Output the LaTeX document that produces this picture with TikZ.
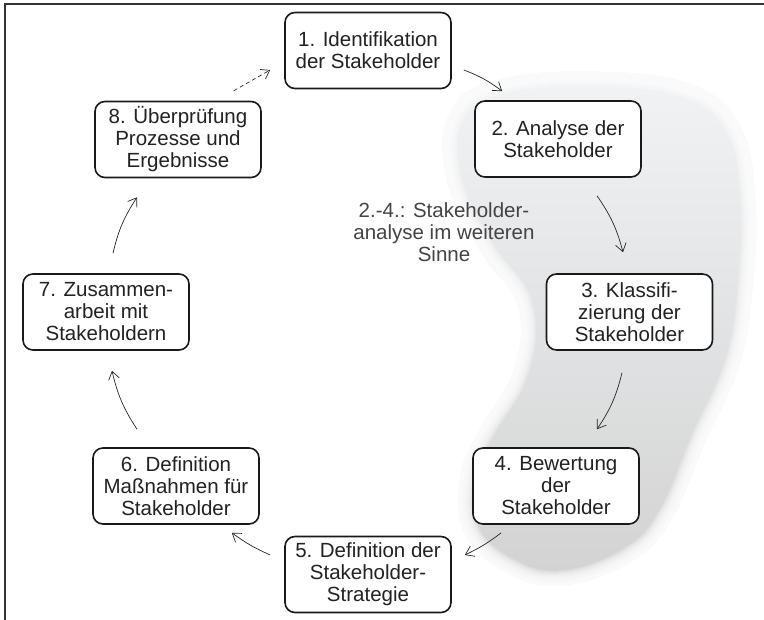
\documentclass[tikz,border=0pt]{standalone}
\usepackage{fontspec}
\setmainfont{Liberation Sans}
\usetikzlibrary{arrows.meta}
\definecolor{txt}{HTML}{222222}
\definecolor{notetxt}{HTML}{444444}
\definecolor{blobtop}{HTML}{F1F3F5}
\definecolor{blobbot}{HTML}{D2D2D2}
\begin{document}
\begin{tikzpicture}[x=1pt,y=-1pt,
  stage/.style={draw=black!90, line width=1.6pt, rounded corners=10pt,
    minimum width=166pt, minimum height=76pt, align=center, inner sep=0pt,
    font=\fontsize{20.5}{22}\selectfont, text=txt, fill=white},
  flow/.style={-{Straight Barb[length=8pt,width=11pt]}, line width=0.7pt, draw=black!85},
  dflow/.style={flow, dash pattern=on 4pt off 3pt},
  notestyle/.style={align=center, font=\fontsize{20.5}{22}\selectfont, text=notetxt},
  frame/.style={line width=2pt, draw=black!80}
]
\useasboundingbox (0,0) rectangle (764,620);
% soft grey blob
\def\blobpath{plot[smooth cycle, tension=0.7] coordinates {(498,80) (450,113) (447,180) (481,252) (518,306) (514,370) (481,428) (461,475) (465,533) (508,573) (565,585) (633,560) (672,518) (705,442) (740,362) (753,280) (755,198) (740,126) (692,85) (600,72)}}
\fill[top color=blobtop, bottom color=blobbot] \blobpath;
\foreach \w in {2,4,...,30} {
  \draw[white, line width=\w pt, opacity=0.18] \blobpath;
}
% frame
\coordinate (fbl) at (4.5,620);
\coordinate (ftl) at (4.5,4);
\coordinate (ftr) at (764,4);
\draw[frame] (fbl) -- (ftl) -- (ftr);
% nodes
\node[stage] (n1) at (368,50.5) {1. Identifikation\\der Stakeholder};
\node[stage] (n2) at (558,139) {2. Analyse der\\Stakeholder};
\node[stage] (n3) at (629.5,312) {3. Klassifi-\\zierung der\\Stakeholder};
\node[stage] (n4) at (556,486) {4. Bewertung\\der\\Stakeholder};
\node[stage] (n5) at (368,574.5) {5. Definition der\\Stakeholder-\\Strategie};
\node[stage] (n6) at (176,486) {6. Definition\\Maßnahmen für\\Stakeholder};
\node[stage] (n7) at (106,312) {7. Zusammen-\\arbeit mit\\Stakeholdern};
\node[stage] (n8) at (178,139.5) {8. Überprüfung\\Prozesse und\\Ergebnisse};
\node[notestyle] (note) at (444,232) {2.-4.: Stakeholder-\\analyse im weiteren\\Sinne};
% connectors
\draw[flow] ([shift={(12,19.5)}]n1.east) to[bend left=8] ([shift={(28,-9)}]n2.north west);
\draw[flow] ([shift={(39,18)}]n2.south) to[bend left=10] ([shift={(-6.5,-21)}]n3.north);
\draw[flow] ([shift={(-7.5,22)}]n3.south) to[bend left=10] ([shift={(41,-18)}]n4.north);
\draw[flow] ([shift={(29,8)}]n4.south west) to[bend left=6] ([shift={(13,-19.5)}]n5.east);
\draw[flow] ([shift={(-14,-19.5)}]n5.west) to[bend left=6] ([shift={(-28,8)}]n6.south east);
\draw[flow] ([shift={(-39,-18)}]n6.north) to[bend left=10] ([shift={(6,20)}]n7.south);
\draw[flow] ([shift={(7,-20)}]n7.north) to[bend left=10] ([shift={(-41,19)}]n8.south);
\draw[dflow] ([shift={(-28,-10)}]n8.north east) to ([shift={(-14,19.5)}]n1.west);
\end{tikzpicture}
\end{document}
